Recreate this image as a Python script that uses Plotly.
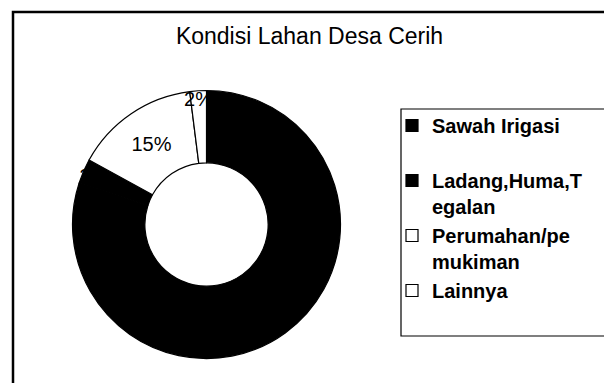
import plotly.graph_objects as go

# Land-use shares, Desa Cerih
categories = ["Sawah Irigasi", "Ladang,Huma,T<br>egalan", "Perumahan/pe<br>mukiman", "Lainnya"]
legend_text = ["Sawah Irigasi<br> ", "Ladang,Huma,T<br>egalan", "Perumahan/pe<br>mukiman", "Lainnya<br> "]
shares = [80, 3, 15, 2]
slice_colors = ["#000000", "#000000", "#ffffff", "#ffffff"]

W, H = 604, 383
FONT = "Liberation Sans, Arial, sans-serif"

# donut placement (pixels)
cx, cy, r = 206.5, 224.5, 134

fig = go.Figure(
    go.Pie(
        labels=legend_text,
        values=shares,
        sort=False,
        direction="clockwise",
        rotation=0,
        hole=0.46,
        marker=dict(colors=slice_colors, line=dict(color="#000000", width=1.2)),
        textinfo="percent",
        texttemplate="%{percent:.0%}",
        textposition="inside",
        insidetextorientation="horizontal",
        textfont=dict(family=FONT, size=20, color="#000000"),
        domain=dict(
            x=[(cx - r) / W, (cx + r) / W],
            y=[(H - cy - r) / H, (H - cy + r) / H],
        ),
        showlegend=True,
        hoverinfo="label+percent",
    )
)

fig.update_layout(
    width=W,
    height=H,
    margin=dict(l=0, r=0, t=0, b=0),
    paper_bgcolor="#ffffff",
    plot_bgcolor="#ffffff",
    font=dict(family=FONT, color="#000000"),
    uniformtext=dict(minsize=20, mode="show"),
    title=dict(
        text="Kondisi Lahan Desa Cerih",
        x=309.5 / W,
        xanchor="center",
        y=1 - 35.5 / H,
        yanchor="middle",
        font=dict(family=FONT, size=23, color="#000000"),
    ),
    legend=dict(
        x=392 / W,
        xanchor="left",
        y=1 - 106 / H,
        yanchor="top",
        valign="top",
        bgcolor="rgba(0,0,0,0)",
        borderwidth=0,
        font=dict(family=FONT, size=20, color="#000000", weight="bold"),
        traceorder="normal",
    ),
    shapes=[
        # chart-area frame (runs off the right and bottom edges)
        dict(type="rect", xref="paper", yref="paper",
             x0=13 / W, x1=1.05, y0=-0.05, y1=1 - 12 / H,
             line=dict(color="#000000", width=2.5), fillcolor="rgba(0,0,0,0)"),
        # legend box
        dict(type="rect", xref="paper", yref="paper",
             x0=401 / W, x1=1.05, y0=1 - 336 / H, y1=1 - 109 / H,
             line=dict(color="#000000", width=1.2), fillcolor="rgba(0,0,0,0)"),
    ],
)

fig.write_html("out.html")
